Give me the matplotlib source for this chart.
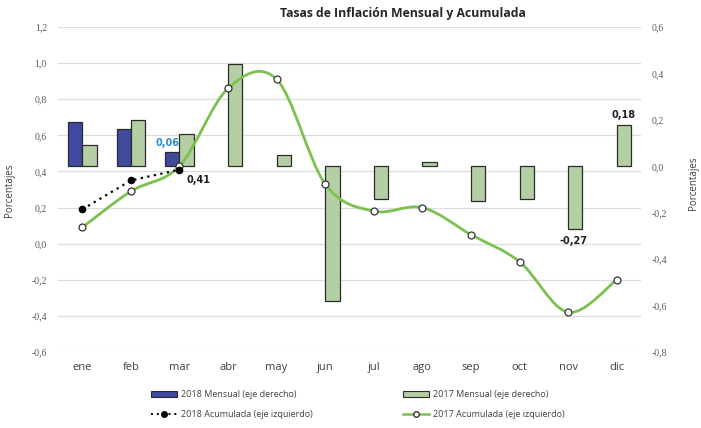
import matplotlib
matplotlib.use("Agg")
import matplotlib.pyplot as plt
from matplotlib.path import Path
from matplotlib.patches import PathPatch, Patch
from matplotlib.lines import Line2D
import matplotlib.transforms as mtransforms
import numpy as np

months = ["ene", "feb", "mar", "abr", "may", "jun", "jul", "ago", "sep", "oct", "nov", "dic"]
mensual_2018 = [0.19, 0.16, 0.06]
mensual_2017 = [0.09, 0.20, 0.14, 0.44, 0.05, -0.58, -0.14, 0.02, -0.15, -0.14, -0.27, 0.18]
acum_2018 = [0.19, 0.35, 0.41]
acum_2017 = [0.09, 0.29, 0.43, 0.86, 0.91, 0.33, 0.18, 0.20, 0.05, -0.10, -0.38, -0.20]
left_ticks = [-0.6, -0.4, -0.2, 0.0, 0.2, 0.4, 0.6, 0.8, 1.0, 1.2]
right_ticks = [-0.8, -0.6, -0.4, -0.2, 0.0, 0.2, 0.4, 0.6]

BLUE = "#3F4A9F"
GREEN_BAR = "#B3CFA3"
GREEN_LINE = "#7CC150"
GRID = "#DCDCDC"
TICKC = "#595959"

fig = plt.figure(figsize=(7.01, 4.28), dpi=100)
ax = fig.add_axes([58/701, 1-352/428, 583/701, 325/428])
ax2 = ax.twinx()
ax.set_zorder(2)
ax.patch.set_visible(False)
ax2.set_zorder(1)

x = np.arange(len(months))
ax.set_xlim(-0.5, 11.5)
ax.set_ylim(-0.6, 1.2)
ax2.set_ylim(-0.8, 0.6)

# gridlines (left-axis positions) drawn behind bars
tr = mtransforms.blended_transform_factory(ax2.transAxes, ax.transData)
for v in left_ticks:
    ax2.add_line(Line2D([0, 1], [v, v], transform=tr, color=GRID, lw=0.9, zorder=0.5))

# bars on right axis
w = 0.295
x18 = x[:len(mensual_2018)]
ax2.bar(x18 - w/2, mensual_2018, width=w, color=BLUE, edgecolor="#2b2b2b", linewidth=0.9, zorder=2)
ax2.bar(x + w/2, mensual_2017, width=w, color=GREEN_BAR, edgecolor="#2b2b2b", linewidth=0.9, zorder=2)

# smoothed 2017 line (Bezier through data points, like Excel smoothing)
pts = np.column_stack([x, acum_2017]).astype(float)
verts = [tuple(pts[0])]
codes = [Path.MOVETO]
n = len(pts)
for i in range(n - 1):
    p0 = pts[i - 1] if i > 0 else pts[i]
    p1 = pts[i]
    p2 = pts[i + 1]
    p3 = pts[i + 2] if i + 2 < n else pts[i + 1]
    c1 = p1 + (p2 - p0) / 6.0
    c2 = p2 - (p3 - p1) / 6.0
    verts += [tuple(c1), tuple(c2), tuple(p2)]
    codes += [Path.CURVE4] * 3
ax.add_patch(PathPatch(Path(verts, codes), fill=False, edgecolor=GREEN_LINE, lw=2.0, zorder=3))
ax.plot(x, acum_2017, linestyle="none", marker="o", ms=5, mfc="white", mec="#333333", mew=0.9, zorder=4)

# 2018 accumulated dotted line
ax.plot(x18, acum_2018, linestyle=(0, (1, 2.0)), color="black", lw=1.6, marker="o", ms=4.5,
        mfc="black", mec="black", zorder=4)

# labels
ax2.text(x[2] - w/2 - 0.1, mensual_2018[2] + 0.02, "0,06", color="#2E8BD0", fontsize=7,
         fontweight="bold", ha="center", va="bottom", family="DejaVu Sans")
ax.text(x[2] + 0.15, acum_2018[2] - 0.03, "0,41", color="#222222", fontsize=7,
        fontweight="bold", ha="left", va="top", family="DejaVu Sans")
ax2.text(x[11] + w/2, mensual_2017[11] + 0.02, "0,18", color="#222222", fontsize=7,
         fontweight="bold", ha="center", va="bottom", family="DejaVu Sans")
ax2.text(x[10] + w/2 - 0.04, mensual_2017[10] - 0.03, "-0,27", color="#222222", fontsize=7,
         fontweight="bold", ha="center", va="top", family="DejaVu Sans")

# axes styling
for a in (ax, ax2):
    for s in a.spines.values():
        s.set_visible(False)
ax.set_xticks(x)
ax.set_xticklabels(months, fontsize=8, color="#404040", family="Open Sans")
ax.tick_params(axis="x", length=0, pad=7)
ax.set_yticks(left_ticks)
ax.set_yticklabels([f"{v:.1f}".replace(".", ",") for v in left_ticks], fontsize=7,
                   color=TICKC, family="Liberation Serif")
ax.tick_params(axis="y", length=0, pad=8)
ax2.set_yticks(right_ticks)
ax2.set_yticklabels([f"{v:.1f}".replace(".", ",") for v in right_ticks], fontsize=7,
                    color=TICKC, family="Liberation Serif")
ax2.tick_params(axis="y", length=0, pad=8)

fig.text(10/701, 1-190/428, "Porcentajes", rotation=90, ha="center", va="center",
         fontsize=7, color="#404040", family="Open Sans")
fig.text(693/701, 1-183/428, "Porcentajes", rotation=90, ha="center", va="center",
         fontsize=7, color="#404040", family="Open Sans")

fig.text(403/701, 1-13/428, "Tasas de Inflación Mensual y Acumulada", ha="center", va="center",
         fontsize=8.8, fontweight="bold", color="#262626", family="Open Sans")

handles = [
    Patch(facecolor=BLUE, edgecolor="#2b2b2b", linewidth=0.8),
    Line2D([], [], linestyle=(0, (1, 2)), color="black", lw=1.4, marker="o", ms=4, mfc="black"),
    Patch(facecolor=GREEN_BAR, edgecolor="#2b2b2b", linewidth=0.8),
    Line2D([], [], color=GREEN_LINE, lw=1.8, marker="o", ms=4, mfc="white", mec="#333333"),
]
labels = ["2018 Mensual (eje derecho)", "2018 Acumulada (eje izquierdo)",
          "2017 Mensual (eje derecho)", "2017 Acumulada (eje izquierdo)"]
leg = fig.legend(handles, labels, ncol=2, loc="center left", bbox_to_anchor=(143/701, 1-404.5/428),
                 frameon=False, handlelength=2.9, handleheight=0.55,
                 handletextpad=0.4, columnspacing=10.0, labelspacing=1.15,
                 prop={"family": "Open Sans", "size": 6.5})
for t in leg.get_texts():
    t.set_color("#404040")

fig.savefig("out.png", dpi=100)
